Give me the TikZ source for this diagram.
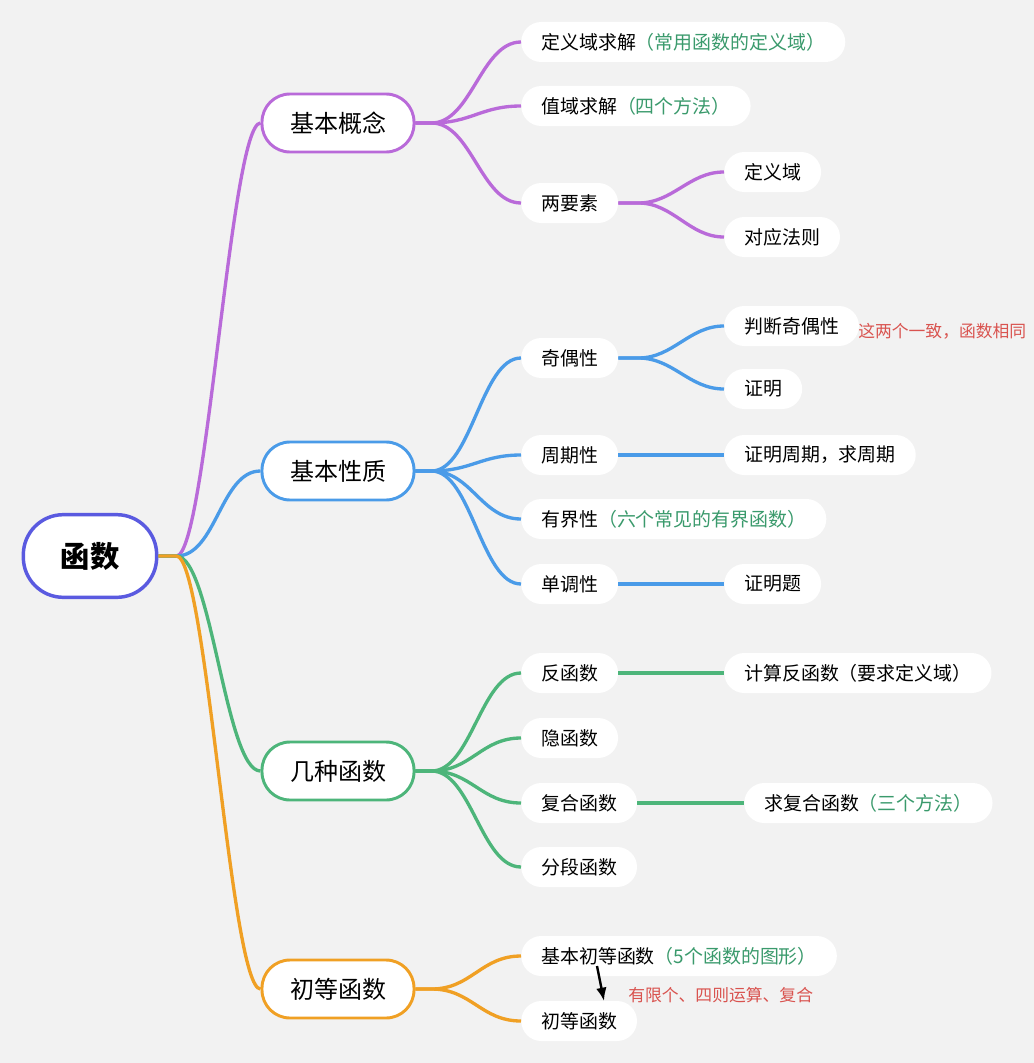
\documentclass[tikz,border=0pt]{standalone}
\usepackage{fontspec}
\newfontfamily\cjk{Noto Sans CJK SC}
\usetikzlibrary{calc,arrows.meta}
\definecolor{bg}{HTML}{F2F2F2}
\definecolor{rootc}{HTML}{5A5AE0}
\definecolor{cp}{HTML}{B96AD9}
\definecolor{cb}{HTML}{4A9BE8}
\definecolor{cg}{HTML}{4DB57A}
\definecolor{co}{HTML}{F0A024}
\definecolor{ng}{HTML}{3A9A6C}
\definecolor{nr}{HTML}{D9534F}
\begin{document}
\begin{tikzpicture}[x=0.75pt,y=-0.75pt,
  rootnode/.style={draw=rootc, line width=2.6pt, fill=white, rounded corners=30pt,
    minimum width=100pt, minimum height=62pt, inner sep=0pt,
    font=\cjk\fontsize{22}{26}\selectfont\bfseries},
  topic/.style={draw=#1, line width=2.2pt, fill=white, rounded corners=21pt,
    minimum width=114pt, minimum height=43.5pt, inner sep=0pt,
    font=\cjk\fontsize{18}{22}\selectfont},
  sub/.style={fill=white, rounded corners=15pt, minimum height=30pt,
    inner xsep=15pt, inner ysep=0pt, anchor=west,
    font=\cjk\fontsize{14.2}{17}\selectfont},
  note/.style={anchor=west, inner sep=0pt, text=nr,
    font=\cjk\fontsize{12.6}{15}\selectfont},
  conn/.style={draw=#1, line width=2.5pt}]
\fill[bg] (0,0) rectangle (1034,1063);
\useasboundingbox (0,0) rectangle (1034,1063);

% root and topics
\node[rootnode] (root) at (90,556) {函数};
\node[topic=cp] (t1) at (338,123) {基本概念};
\node[topic=cb] (t2) at (338,471) {基本性质};
\node[topic=cg] (t3) at (338,771) {几种函数};
\node[topic=co] (t4) at (338,989) {初等函数};

% purple branch
\node[sub] (a1) at (521,42) {定义域求解\textcolor{ng}{（常用函数的定义域）}};
\node[sub] (a2) at (521,106) {值域求解\textcolor{ng}{（四个方法）}};
\node[sub] (a3) at (521,203) {两要素};
\node[sub] (a31) at (724,172) {定义域};
\node[sub] (a32) at (724,237) {对应法则};

% blue branch
\node[sub] (b1) at (521,358) {奇偶性};
\node[sub] (b11) at (724,326) {判断奇偶性};
\node[sub] (b12) at (724,389) {证明};
\node[note] (nb) at (858,331) {这两个一致，函数相同};
\node[sub] (b2) at (521,455) {周期性};
\node[sub] (b21) at (724,455) {证明周期，求周期};
\node[sub] (b3) at (521,519) {有界性\textcolor{ng}{（六个常见的有界函数）}};
\node[sub] (b4) at (521,584) {单调性};
\node[sub] (b41) at (724,584) {证明题};

% green branch
\node[sub] (c1) at (521,673) {反函数};
\node[sub] (c11) at (724,673) {计算反函数（要求定义域）};
\node[sub] (c2) at (521,738) {隐函数};
\node[sub] (c3) at (521,803) {复合函数};
\node[sub] (c31) at (744,803) {求复合函数\textcolor{ng}{（三个方法）}};
\node[sub] (c4) at (521,867) {分段函数};

% orange branch
\node[sub] (d1) at (521,956) {基本初等函数\textcolor{ng}{（5个函数的图形）}};
\node[sub] (d2) at (521,1021) {初等函数};
\node[note] (nd) at (628,995) {有限个、四则运算、复合};

% root connectors
\draw[conn=cp] (root.east) -- ++(18,0) .. controls +(30,0) and +(-30,0) .. (t1.west);
\draw[conn=cb] (root.east) -- ++(18,0) .. controls +(40,0) and +(-40,0) .. (t2.west);
\draw[conn=cg] (root.east) -- ++(18,0) .. controls +(35,0) and +(-35,0) .. (t3.west);
\draw[conn=co] (root.east) -- ++(18,0) .. controls +(30,0) and +(-30,0) .. (t4.west);

% topic connectors
\foreach \s in {a1,a2,a3}
  \draw[conn=cp] (t1.east) -- ++(16,0) .. controls +(40,0) and +(-40,0) .. (\s.west);
\foreach \s in {b1,b2,b3,b4}
  \draw[conn=cb] (t2.east) -- ++(16,0) .. controls +(40,0) and +(-40,0) .. (\s.west);
\foreach \s in {c1,c2,c3,c4}
  \draw[conn=cg] (t3.east) -- ++(16,0) .. controls +(40,0) and +(-40,0) .. (\s.west);
\foreach \s in {d1,d2}
  \draw[conn=co] (t4.east) -- ++(16,0) .. controls +(40,0) and +(-40,0) .. (\s.west);

% third level
\foreach \s in {a31,a32}
  \draw[conn=cp] (a3.east) -- ++(20,0) .. controls +(35,0) and +(-35,0) .. (\s.west);
\foreach \s in {b11,b12}
  \draw[conn=cb] (b1.east) -- ++(20,0) .. controls +(35,0) and +(-35,0) .. (\s.west);
\draw[conn=cb] (b2.east) -- (b21.west);
\draw[conn=cb] (b4.east) -- (b41.west);
\draw[conn=cg] (c1.east) -- (c11.west);
\draw[conn=cg] (c3.east) -- (c31.west);

% arrow
\coordinate (ar1) at (597,966);
\coordinate (ar2) at (604,1001);
\draw[line width=1.8pt, -{Latex[length=10pt,width=8pt]}] (ar1) -- (ar2);
\end{tikzpicture}
\end{document}
